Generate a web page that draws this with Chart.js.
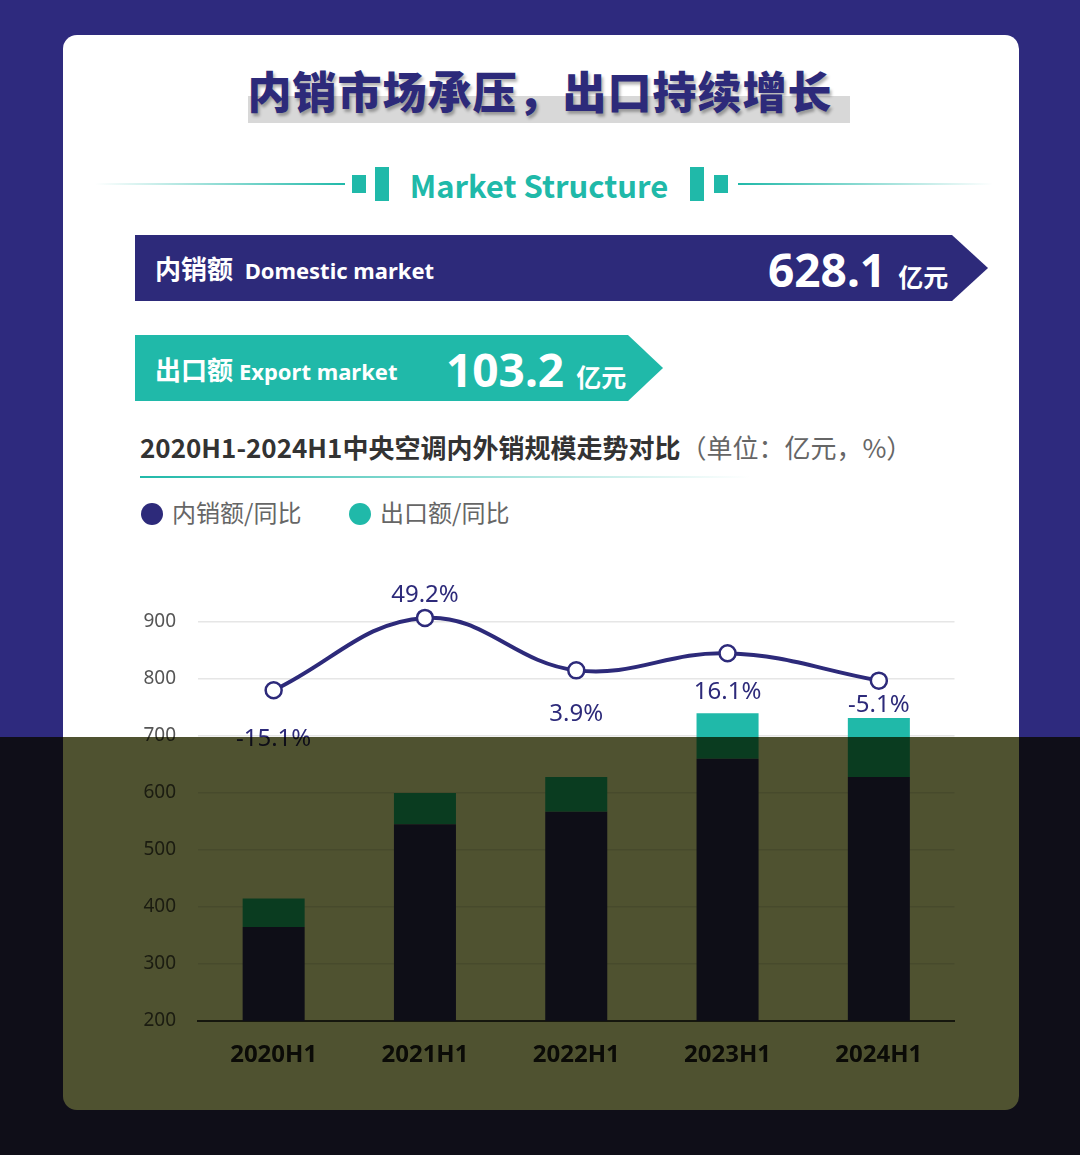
<!DOCTYPE html>
<html><head><meta charset="utf-8">
<script src="https://cdn.jsdelivr.net/npm/chart.js@4/dist/chart.umd.min.js"></script>
<style>
body{margin:0;width:1080px;height:1155px;background:#2e2a7e;position:relative;overflow:hidden;font-family:"Noto Sans CJK SC","Noto Sans",sans-serif}
.card{position:absolute;left:63px;top:35px;width:956px;height:1075px;background:#fff;border-radius:14px}
.abs{position:absolute;white-space:nowrap}
.ban{position:absolute;color:#fff;font-weight:bold;box-shadow:0 6px 6px rgba(0,0,0,.15)}
#ov{position:absolute;left:0;top:737px;width:1080px;height:418px;background:#4f5230;mix-blend-mode:multiply;z-index:10}
</style></head><body>
<div class="card"></div>
<div class="abs" style="left:248px;top:96px;width:602px;height:27px;background:#d8d8d8"></div>
<div class="abs" style="left:0;width:1080px;top:58px;text-align:center;font-size:44px;font-weight:900;color:#2d2a7a;text-shadow:2px 3px 3px rgba(0,0,0,.3);letter-spacing:1px">内销市场承压，出口持续增长</div>
<div class="abs" style="left:95px;top:183px;width:250px;height:2px;background:linear-gradient(90deg,rgba(32,185,169,0),#20b9a9)"></div>
<div class="abs" style="left:738px;top:183px;width:255px;height:2px;background:linear-gradient(90deg,#20b9a9,rgba(32,185,169,0))"></div>
<div class="abs" style="left:352px;top:175px;width:14px;height:18px;background:#20b9a9"></div>
<div class="abs" style="left:375px;top:167px;width:14px;height:34px;background:#20b9a9"></div>
<div class="abs" style="left:690px;top:167px;width:14px;height:34px;background:#20b9a9"></div>
<div class="abs" style="left:714px;top:175px;width:14px;height:18px;background:#20b9a9"></div>
<div class="abs" style="left:0;width:1078px;top:162px;text-align:center;font-size:31px;font-weight:bold;color:#20b9a9">Market Structure</div>
<div class="ban" style="left:135px;top:235px;width:853px;height:66px;background:#2d2a7a;clip-path:polygon(0 0,817px 0,853px 33px,817px 66px,0 66px)"></div>
<div class="abs" style="left:155px;top:249px;color:#fff;font-size:26px;font-weight:bold">内销额 <span style="font-size:22px;font-family:'Noto Sans'">&nbsp;Domestic market</span></div>
<div class="abs" style="left:768px;top:238px;color:#fff;font-size:46px;font-weight:bold;font-family:'Noto Sans'">628.1 <span style="font-size:25px;font-family:'Noto Sans CJK SC'">亿元</span></div>
<div class="ban" style="left:135px;top:335px;width:528px;height:66px;background:#20b9a9;clip-path:polygon(0 0,493px 0,528px 33px,493px 66px,0 66px)"></div>
<div class="abs" style="left:155px;top:350px;color:#fff;font-size:26px;font-weight:bold">出口额 <span style="font-size:22px;font-family:'Noto Sans'">Export market</span></div>
<div class="abs" style="left:446px;top:338px;color:#fff;font-size:46px;font-weight:bold;font-family:'Noto Sans'">103.2 <span style="font-size:25px;font-family:'Noto Sans CJK SC'">亿元</span></div>
<div class="abs" style="left:140px;top:428px;font-size:26px;font-weight:bold;color:#333">2020H1-2024H1中央空调内外销规模走势对比<span style="font-weight:normal;color:#666">（单位：亿元，%）</span></div>
<div class="abs" style="left:140px;top:476px;width:610px;height:2px;background:linear-gradient(90deg,#20b9a9,rgba(32,185,169,0))"></div>
<div class="abs" style="left:141px;top:503px;width:22px;height:22px;border-radius:50%;background:#2d2a7a"></div>
<div class="abs" style="left:172px;top:494px;font-size:24px;color:#666">内销额/同比</div>
<div class="abs" style="left:349px;top:503px;width:22px;height:22px;border-radius:50%;background:#20b9a9"></div>
<div class="abs" style="left:380px;top:494px;font-size:24px;color:#666">出口额/同比</div>
<div class="abs" style="left:130px;top:560px;width:835px;height:540px"><canvas id="c"></canvas></div>
<div id="ov"></div>
<script>
const categories=["2020H1","2021H1","2022H1","2023H1","2024H1"];
const domestic=[365,545,567,660,628.1];
const exportv=[50,55,61,80,103.2];
const domLine=[780,907,815,845,797];
const expLine=[780,823,827,878,873];
const domYoY=["-15.1%","49.2%","3.9%","16.1%","-5.1%"];
const expYoY=["-13.6%","7.6%","9.9%","35.1%","32.4%"];
const domOff=[49,-23,44,39,25];
const expOff=[-43,37,-44,-34,-40];
const NAVY="#2d2a7a",TEAL="#20b9a9";
const labelPlugin={id:"lbl",afterDatasetsDraw(ch){
 const c=ch.ctx;c.save();c.font="24px 'Noto Sans'";c.textAlign="center";c.textBaseline="middle";
 [[0,domYoY,domOff,NAVY],[1,expYoY,expOff,TEAL]].forEach(([di,t,o,col])=>{
  ch.getDatasetMeta(di).data.forEach((p,i)=>{c.fillStyle=col;c.fillText(t[i],p.x,p.y+o[i]);});
 });c.restore();}};
new Chart(document.getElementById("c"),{
 data:{labels:categories,datasets:[
  {type:"line",data:domLine,borderColor:NAVY,borderWidth:4,tension:0.4,pointRadius:8,pointBackgroundColor:"#fff",pointBorderColor:NAVY,pointBorderWidth:2.5,order:0},
  {type:"line",data:expLine,borderColor:TEAL,borderWidth:4,tension:0.4,pointRadius:8,pointBackgroundColor:"#fff",pointBorderColor:TEAL,pointBorderWidth:2.5,order:1},
  {type:"bar",data:domestic,backgroundColor:NAVY,barPercentage:0.41,categoryPercentage:1,stack:"s",order:2},
  {type:"bar",data:exportv,backgroundColor:TEAL,barPercentage:0.41,categoryPercentage:1,stack:"s",order:2}
 ]},
 options:{responsive:true,maintainAspectRatio:false,animation:false,
  layout:{padding:{top:20,right:0,left:0,bottom:0}},
  plugins:{legend:{display:false},tooltip:{enabled:false}},
  scales:{
   x:{stacked:true,grid:{display:false},border:{color:"#444",width:2},
      ticks:{color:"#222",font:{size:24,weight:"bold",family:"'Noto Sans'"},padding:12},
      afterFit(s){s.height=79;}},
   y:{stacked:true,min:200,max:950,
      afterBuildTicks(s){s.ticks=[200,300,400,500,600,700,800,900].map(v=>({value:v}));},
      grid:{color:"#e6e6e6",lineWidth:1.5,drawTicks:false},border:{display:false},
      ticks:{color:"#555",font:{size:19,family:"'Noto Sans'"},padding:22},
      afterFit(s){s.width=68;}}
  }},
 plugins:[labelPlugin]});
</script></body></html>
